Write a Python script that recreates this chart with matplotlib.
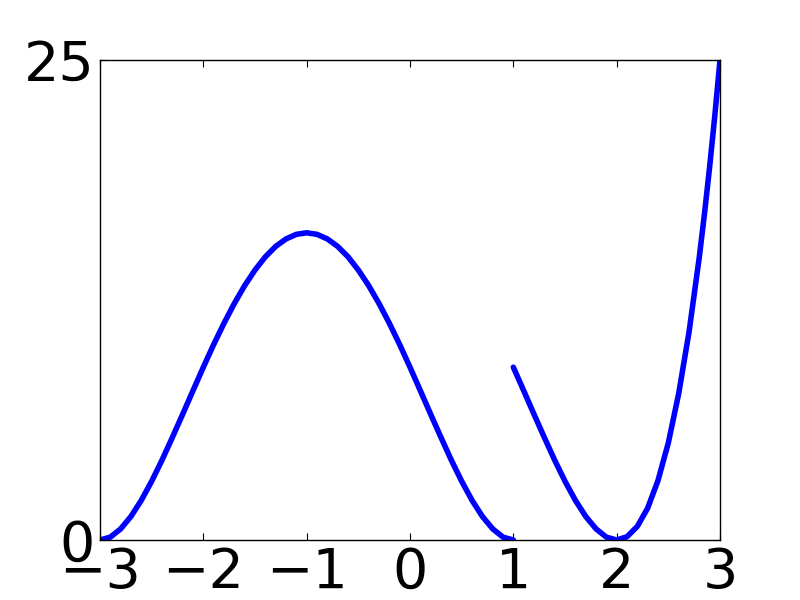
import matplotlib
matplotlib.use('Agg')
import matplotlib.pyplot as plt

x_left = [-3.0, -2.9, -2.8, -2.7, -2.6, -2.5, -2.4, -2.3, -2.2, -2.1, -2.0,
          -1.9, -1.8, -1.7, -1.6, -1.5, -1.4, -1.3, -1.2, -1.1, -1.0,
          -0.9, -0.8, -0.7, -0.6, -0.5, -0.4, -0.3, -0.2, -0.1, 0.0,
          0.1, 0.2, 0.3, 0.4, 0.5, 0.6, 0.7, 0.8, 0.9, 1.0]
y_left = [0.0, 0.15, 0.58, 1.23, 2.07, 3.06, 4.16, 5.34, 6.55, 7.78, 9.0,
          10.18, 11.29, 12.32, 13.25, 14.06, 14.75, 15.29, 15.68, 15.92, 16.0,
          15.92, 15.68, 15.29, 14.75, 14.06, 13.25, 12.32, 11.29, 10.18, 9.0,
          7.78, 6.55, 5.34, 4.16, 3.06, 2.07, 1.23, 0.58, 0.15, 0.0]

# right piece
x_right = [1.0, 1.1, 1.2, 1.3, 1.4, 1.5, 1.6, 1.7, 1.8, 1.9, 2.0,
           2.1, 2.2, 2.3, 2.4, 2.5, 2.6, 2.7, 2.8, 2.85, 2.9, 2.95, 3.0]
y_right = [9.0, 7.78, 6.55, 5.34, 4.16, 3.06, 2.07, 1.23, 0.58, 0.15, 0.0,
           0.17, 0.71, 1.66, 3.10, 5.06, 7.62, 10.82, 14.75, 17.0, 19.45, 22.11, 25.0]

xticks = [-3, -2, -1, 0, 1, 2, 3]
yticks = [0, 25]

plt.rcParams['font.family'] = 'DejaVu Sans'
fig = plt.figure(figsize=(8, 6), dpi=100)
ax = fig.add_axes([0.125, 0.1, 0.775, 0.8])

ax.plot(x_left, y_left, color='b', lw=4, solid_capstyle='round')
ax.plot(x_right, y_right, color='b', lw=4, solid_capstyle='round')

ax.set_xlim(-3, 3)
ax.set_ylim(0, 25)
ax.set_xticks(xticks)
ax.set_yticks(yticks)
ax.set_xticklabels(['\u22123', '\u22122', '\u22121', '0', '1', '2', '3'])
ax.tick_params(direction='in', length=5, width=0.8, top=True, right=True,
               labelsize=40, pad=4)
for s in ax.spines.values():
    s.set_linewidth(1.0)

fig.savefig('out.png', dpi=100)
